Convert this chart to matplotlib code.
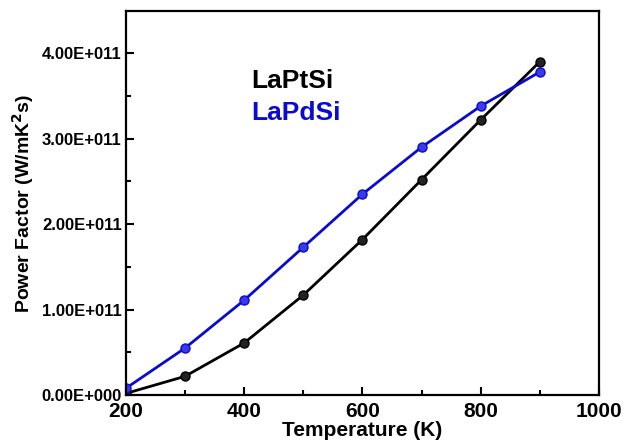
import matplotlib
matplotlib.use("Agg")
import matplotlib.pyplot as plt
from matplotlib.ticker import MultipleLocator

temperature = [200, 300, 400, 500, 600, 700, 800, 900]
pf_laptsi = [0.02e11, 0.22e11, 0.61e11, 1.17e11, 1.82e11, 2.52e11, 3.22e11, 3.90e11]
pf_lapdsi = [0.08e11, 0.55e11, 1.11e11, 1.73e11, 2.35e11, 2.90e11, 3.38e11, 3.78e11]
yticks = [0, 1e11, 2e11, 3e11, 4e11]
ytick_labels = ["0.00E+000", "1.00E+011", "2.00E+011", "3.00E+011", "4.00E+011"]
xticks = [200, 400, 600, 800, 1000]

plt.rcParams['font.family'] = ['Liberation Sans', 'DejaVu Sans']
plt.rcParams['font.weight'] = 'bold'

fig = plt.figure(figsize=(6.26, 4.46), dpi=100)
ax = fig.add_axes([0.201, 0.114, 0.756, 0.861])

ax.plot(temperature, pf_laptsi, color='black', lw=2, marker='o', ms=6.5,
        mfc='#222222', mec='black', mew=1)
ax.plot(temperature, pf_lapdsi, color='#0a0ad0', lw=2, marker='o', ms=6.5,
        mfc='#3a3ae8', mec='#0a0ad0', mew=1)

ax.set_xlim(200, 1000)
ax.set_ylim(0, 4.49e11)
ax.set_xticks(xticks)
ax.xaxis.set_minor_locator(MultipleLocator(100))
ax.set_yticks(yticks)
ax.set_yticklabels(ytick_labels)
ax.yaxis.set_minor_locator(MultipleLocator(0.5e11))

ax.tick_params(which='both', direction='in', width=1.5)
ax.tick_params(which='major', length=6)
ax.tick_params(which='minor', length=3.5)
ax.tick_params(axis='x', labelsize=15, pad=5)
ax.tick_params(axis='y', labelsize=12, pad=3)
for lbl in ax.get_xticklabels() + ax.get_yticklabels():
    lbl.set_fontweight('bold')
for s in ax.spines.values():
    s.set_linewidth(1.6)

ax.set_xlabel('Temperature (K)', fontsize=15, fontweight='bold', labelpad=0)
ax.set_ylabel(r'Power Factor (W/mK$^{\mathbf{2}}$s)', fontsize=14, fontweight='bold', labelpad=4)

ax.text(0.266, 0.80, 'LaPtSi', transform=ax.transAxes, fontsize=19, fontweight='bold', color='black')
ax.text(0.266, 0.716, 'LaPdSi', transform=ax.transAxes, fontsize=19, fontweight='bold', color='#0a0ad0')

fig.savefig('out.png', dpi=100)
